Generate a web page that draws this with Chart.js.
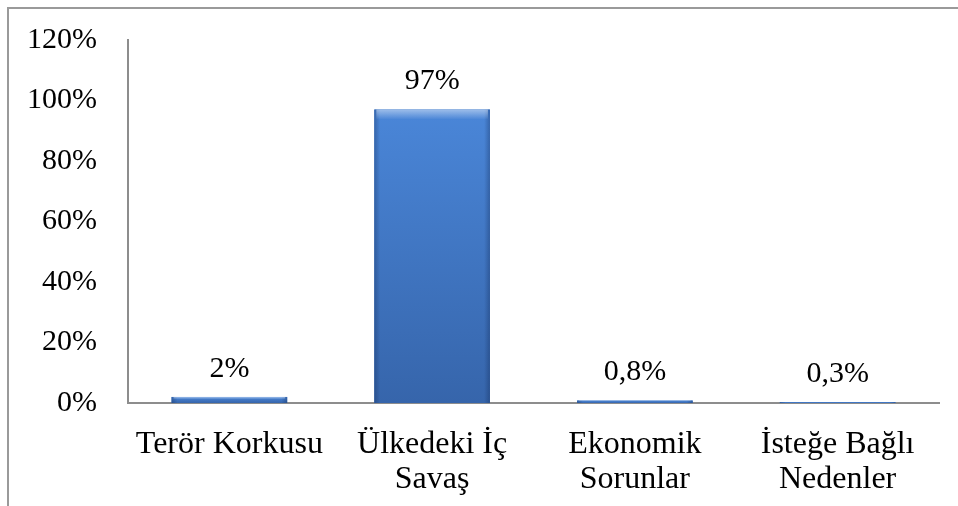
<!DOCTYPE html>
<html>
<head>
<meta charset="utf-8">
<script src="https://cdn.jsdelivr.net/npm/chart.js@4.4.1/dist/chart.umd.min.js"></script>
<style>
  html, body { margin: 0; padding: 0; background: #fff; overflow: hidden; }
  #wrap { position: relative; width: 958px; height: 506px; }
  #frame { position: absolute; left: 7px; top: 7px; width: 1000px; height: 1000px;
           border-top: 2px solid #9a9a9a; border-left: 2px solid #9a9a9a; box-sizing: border-box; }
  canvas { position: absolute; left: 0; top: 0; }
</style>
</head>
<body>
<div id="wrap">
  <div id="frame"></div>
  <canvas id="c" width="958" height="506"></canvas>
</div>
<script>
const categories = ['Terör Korkusu', ['Ülkedeki İç', 'Savaş'], ['Ekonomik', 'Sorunlar'], ['İsteğe Bağlı', 'Nedenler']];
const values = [2, 97, 0.8, 0.3];
const yTicks = [0, 20, 40, 60, 80, 100, 120];

const FAMILY = '"Liberation Serif", "Times New Roman", serif';
const FONT = { family: FAMILY, size: 30, lineHeight: 35 / 30 };
const XFONT = { family: FAMILY, size: 32, lineHeight: 35 / 32 };

function fmt(v) { return String(v).replace('.', ',') + '%'; }

const barStyle = {
  id: 'barStyle',
  afterDatasetsDraw(chart) {
    const ctx = chart.ctx;
    const meta = chart.getDatasetMeta(0);
    meta.data.forEach((bar, i) => {
      const p = bar.getProps(['x', 'y', 'base', 'width'], true);
      const l = p.x - p.width / 2, r = p.x + p.width / 2;
      const top = Math.min(p.y, p.base), bot = Math.max(p.y, p.base);
      const h = bot - top;
      if (h > 0.5) {
        ctx.save();
        let g = ctx.createLinearGradient(0, top, 0, bot);
        g.addColorStop(0, '#4a86d8');
        g.addColorStop(1, '#3665ab');
        ctx.fillStyle = g;
        ctx.fillRect(l, top, p.width, h);
        let gh = ctx.createLinearGradient(l, 0, r, 0);
        gh.addColorStop(0, 'rgba(10,30,70,0.30)');
        gh.addColorStop(0.05, 'rgba(10,30,70,0.0)');
        gh.addColorStop(0.95, 'rgba(10,30,70,0.0)');
        gh.addColorStop(1, 'rgba(10,30,70,0.30)');
        ctx.fillStyle = gh;
        ctx.fillRect(l, top, p.width, h);
        const bh = Math.min(10, h * 0.4);
        let gt = ctx.createLinearGradient(0, top, 0, top + bh);
        gt.addColorStop(0, 'rgba(255,255,255,0.45)');
        gt.addColorStop(1, 'rgba(255,255,255,0.0)');
        ctx.fillStyle = gt;
        ctx.fillRect(l + 2, top, p.width - 4, bh);
        ctx.restore();
      }
      ctx.save();
      ctx.font = FONT.size + 'px ' + FAMILY;
      ctx.fillStyle = '#000';
      ctx.textAlign = 'center';
      ctx.textBaseline = 'middle';
      ctx.fillText(fmt(values[i]), p.x, top - 28);
      ctx.restore();
    });
  }
};

new Chart(document.getElementById('c'), {
  type: 'bar',
  data: {
    labels: categories,
    datasets: [{
      data: values,
      backgroundColor: '#3f74c0',
      borderWidth: 0,
      categoryPercentage: 1.0,
      barPercentage: 0.57
    }]
  },
  options: {
    responsive: false,
    animation: false,
    layout: { padding: { top: 0, right: 19, bottom: 0, left: 0 } },
    plugins: { legend: { display: false }, tooltip: { enabled: false } },
    scales: {
      x: {
        grid: { display: false, drawTicks: false },
        border: { display: true, color: '#8d8d8d', width: 2 },
        ticks: { color: '#000', font: XFONT, padding: 24, maxRotation: 0, autoSkip: false },
        afterFit(s) { s.height = 103; }
      },
      y: {
        min: 0, max: 120,
        grid: { display: false, drawTicks: false },
        border: { display: true, color: '#8d8d8d', width: 2 },
        afterBuildTicks(s) { s.ticks = yTicks.map(v => ({ value: v })); },
        ticks: { color: '#000', font: FONT, padding: 31, callback: v => v + '%' },
        afterFit(s) { s.width = 128; s.paddingTop = 40; s.paddingBottom = 0; }
      }
    }
  },
  plugins: [barStyle]
});
</script>
</body>
</html>
